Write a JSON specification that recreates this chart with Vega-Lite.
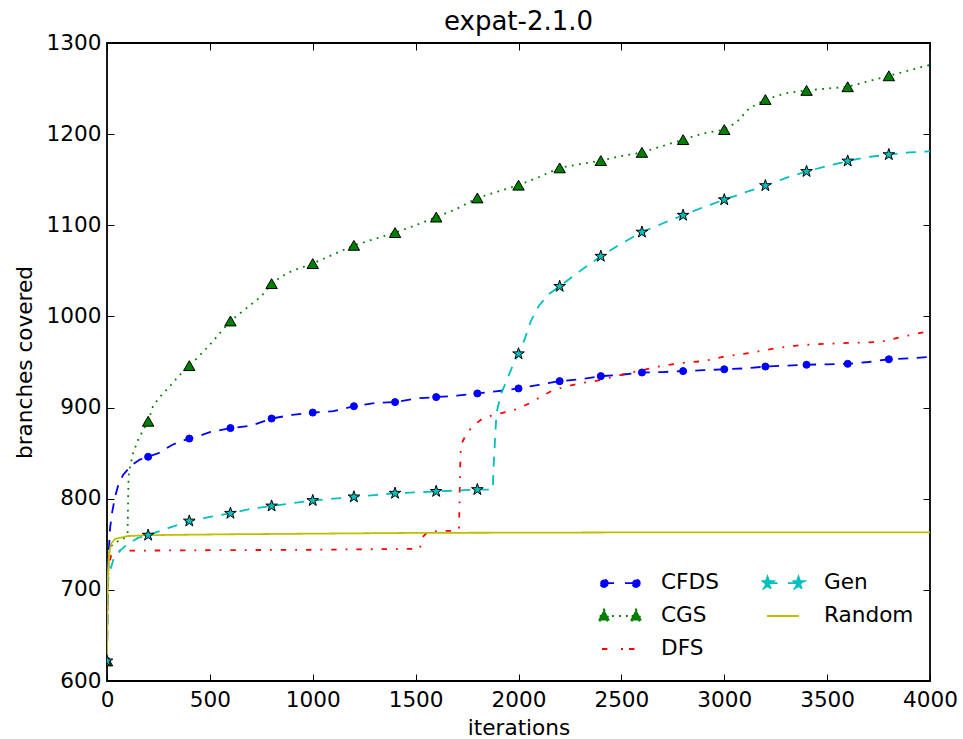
{
  "$schema": "https://vega.github.io/schema/vega-lite/v6.json",
  "width": 823,
  "height": 638,
  "autosize": {"type": "none"},
  "padding": {"left": 107, "top": 43, "right": 33, "bottom": 58},
  "background": "white",
  "title": {"text": "expat-2.1.0", "font": "DejaVu Sans", "fontSize": 26, "fontWeight": "normal", "anchor": "middle", "baseline": "alphabetic", "offset": 10, "dy": 34, "color": "black"},
  "config": {
    "view": {"stroke": "black", "strokeWidth": 1.8},
    "font": "DejaVu Sans",
    "axis": {"domain": false, "grid": false, "tickColor": "black", "tickWidth": 1, "tickSize": -7, "labelFont": "DejaVu Sans", "labelFontSize": 21.6, "labelColor": "black", "titleFont": "DejaVu Sans", "titleFontSize": 21.6, "titleFontWeight": "normal", "titleColor": "black", "labelFlush": false, "labelOverlap": false, "format": "d"}
  },
  "data": {"values": [
    {"s":"CFDS","it":0,"v":622},{"s":"CFDS","it":3,"v":700},{"s":"CFDS","it":8,"v":740},{"s":"CFDS","it":15,"v":768},{"s":"CFDS","it":25,"v":785},{"s":"CFDS","it":39,"v":802},{"s":"CFDS","it":55,"v":815},{"s":"CFDS","it":78,"v":826},{"s":"CFDS","it":120,"v":837},{"s":"CFDS","it":160,"v":843},{"s":"CFDS","it":200,"v":846},{"s":"CFDS","it":250,"v":850},{"s":"CFDS","it":316,"v":859},{"s":"CFDS","it":360,"v":863},{"s":"CFDS","it":400,"v":866},{"s":"CFDS","it":450,"v":869},{"s":"CFDS","it":500,"v":873},{"s":"CFDS","it":600,"v":877.5},{"s":"CFDS","it":700,"v":880},{"s":"CFDS","it":750,"v":884},{"s":"CFDS","it":800,"v":888},{"s":"CFDS","it":900,"v":892},{"s":"CFDS","it":1000,"v":894.5},{"s":"CFDS","it":1100,"v":896},{"s":"CFDS","it":1200,"v":901.5},{"s":"CFDS","it":1300,"v":905},{"s":"CFDS","it":1400,"v":906},{"s":"CFDS","it":1500,"v":910},{"s":"CFDS","it":1600,"v":911.5},{"s":"CFDS","it":1700,"v":913},{"s":"CFDS","it":1800,"v":915.5},{"s":"CFDS","it":1900,"v":918},{"s":"CFDS","it":2000,"v":921},{"s":"CFDS","it":2100,"v":925},{"s":"CFDS","it":2200,"v":929},{"s":"CFDS","it":2300,"v":931},{"s":"CFDS","it":2400,"v":934.5},{"s":"CFDS","it":2500,"v":936},{"s":"CFDS","it":2600,"v":938.5},{"s":"CFDS","it":2700,"v":939},{"s":"CFDS","it":2800,"v":940},{"s":"CFDS","it":2900,"v":941},{"s":"CFDS","it":3000,"v":942},{"s":"CFDS","it":3100,"v":943},{"s":"CFDS","it":3200,"v":945},{"s":"CFDS","it":3300,"v":946},{"s":"CFDS","it":3400,"v":947},{"s":"CFDS","it":3500,"v":947.5},{"s":"CFDS","it":3600,"v":948},{"s":"CFDS","it":3700,"v":950},{"s":"CFDS","it":3800,"v":953},{"s":"CFDS","it":3900,"v":954},{"s":"CFDS","it":4000,"v":955.5},
    {"s":"CGS","it":0,"v":622},{"s":"CGS","it":3,"v":700},{"s":"CGS","it":10,"v":740},{"s":"CGS","it":20,"v":748},{"s":"CGS","it":40,"v":752},{"s":"CGS","it":80,"v":756},{"s":"CGS","it":100,"v":762},{"s":"CGS","it":102,"v":790},{"s":"CGS","it":105,"v":825},{"s":"CGS","it":112,"v":835},{"s":"CGS","it":127,"v":850},{"s":"CGS","it":150,"v":864},{"s":"CGS","it":170,"v":873},{"s":"CGS","it":200,"v":885},{"s":"CGS","it":223,"v":901},{"s":"CGS","it":250,"v":910},{"s":"CGS","it":300,"v":922},{"s":"CGS","it":350,"v":935},{"s":"CGS","it":400,"v":946},{"s":"CGS","it":450,"v":957},{"s":"CGS","it":500,"v":969},{"s":"CGS","it":550,"v":982},{"s":"CGS","it":600,"v":995},{"s":"CGS","it":650,"v":1004},{"s":"CGS","it":700,"v":1013},{"s":"CGS","it":750,"v":1022},{"s":"CGS","it":800,"v":1036},{"s":"CGS","it":850,"v":1044},{"s":"CGS","it":900,"v":1050},{"s":"CGS","it":950,"v":1054},{"s":"CGS","it":1000,"v":1058},{"s":"CGS","it":1100,"v":1068},{"s":"CGS","it":1200,"v":1078},{"s":"CGS","it":1300,"v":1085},{"s":"CGS","it":1400,"v":1092},{"s":"CGS","it":1500,"v":1100},{"s":"CGS","it":1600,"v":1109},{"s":"CGS","it":1700,"v":1118},{"s":"CGS","it":1800,"v":1130},{"s":"CGS","it":1900,"v":1137},{"s":"CGS","it":2000,"v":1144},{"s":"CGS","it":2100,"v":1153},{"s":"CGS","it":2200,"v":1163},{"s":"CGS","it":2300,"v":1167},{"s":"CGS","it":2400,"v":1171},{"s":"CGS","it":2500,"v":1176},{"s":"CGS","it":2600,"v":1180},{"s":"CGS","it":2700,"v":1187},{"s":"CGS","it":2800,"v":1194},{"s":"CGS","it":2900,"v":1201},{"s":"CGS","it":3000,"v":1205},{"s":"CGS","it":3060,"v":1213},{"s":"CGS","it":3120,"v":1228},{"s":"CGS","it":3200,"v":1238},{"s":"CGS","it":3300,"v":1245},{"s":"CGS","it":3400,"v":1248},{"s":"CGS","it":3500,"v":1250},{"s":"CGS","it":3600,"v":1252},{"s":"CGS","it":3700,"v":1258},{"s":"CGS","it":3800,"v":1264},{"s":"CGS","it":3900,"v":1270},{"s":"CGS","it":4000,"v":1276},
    {"s":"DFS","it":0,"v":622},{"s":"DFS","it":3,"v":700},{"s":"DFS","it":8,"v":725},{"s":"DFS","it":20,"v":738},{"s":"DFS","it":50,"v":743},{"s":"DFS","it":100,"v":743},{"s":"DFS","it":500,"v":743.5},{"s":"DFS","it":1000,"v":744},{"s":"DFS","it":1520,"v":745},{"s":"DFS","it":1535,"v":758},{"s":"DFS","it":1560,"v":764},{"s":"DFS","it":1700,"v":765},{"s":"DFS","it":1711,"v":767},{"s":"DFS","it":1716,"v":830},{"s":"DFS","it":1720,"v":859},{"s":"DFS","it":1749,"v":872},{"s":"DFS","it":1780,"v":880},{"s":"DFS","it":1828,"v":888.5},{"s":"DFS","it":1900,"v":893},{"s":"DFS","it":1958,"v":896},{"s":"DFS","it":2000,"v":899},{"s":"DFS","it":2056,"v":905},{"s":"DFS","it":2110,"v":912},{"s":"DFS","it":2167,"v":919},{"s":"DFS","it":2284,"v":926},{"s":"DFS","it":2395,"v":930},{"s":"DFS","it":2500,"v":936},{"s":"DFS","it":2600,"v":941},{"s":"DFS","it":2700,"v":946},{"s":"DFS","it":2800,"v":949},{"s":"DFS","it":2900,"v":951},{"s":"DFS","it":3000,"v":956},{"s":"DFS","it":3125,"v":960},{"s":"DFS","it":3250,"v":965},{"s":"DFS","it":3368,"v":968.5},{"s":"DFS","it":3500,"v":970},{"s":"DFS","it":3611,"v":971},{"s":"DFS","it":3757,"v":972},{"s":"DFS","it":3815,"v":975},{"s":"DFS","it":3870,"v":978},{"s":"DFS","it":4000,"v":984},
    {"s":"Gen","it":0,"v":622},{"s":"Gen","it":3,"v":700},{"s":"Gen","it":8,"v":716},{"s":"Gen","it":31,"v":733},{"s":"Gen","it":63,"v":743},{"s":"Gen","it":100,"v":750},{"s":"Gen","it":150,"v":757},{"s":"Gen","it":200,"v":760},{"s":"Gen","it":300,"v":768},{"s":"Gen","it":400,"v":775.5},{"s":"Gen","it":500,"v":780},{"s":"Gen","it":600,"v":784},{"s":"Gen","it":700,"v":789},{"s":"Gen","it":800,"v":792},{"s":"Gen","it":900,"v":795},{"s":"Gen","it":1000,"v":798},{"s":"Gen","it":1100,"v":800},{"s":"Gen","it":1200,"v":802},{"s":"Gen","it":1300,"v":804},{"s":"Gen","it":1400,"v":806},{"s":"Gen","it":1500,"v":807},{"s":"Gen","it":1600,"v":808},{"s":"Gen","it":1700,"v":809},{"s":"Gen","it":1800,"v":810},{"s":"Gen","it":1875,"v":810},{"s":"Gen","it":1880,"v":840},{"s":"Gen","it":1893,"v":894},{"s":"Gen","it":1915,"v":915},{"s":"Gen","it":1943,"v":930},{"s":"Gen","it":1970,"v":945},{"s":"Gen","it":2000,"v":959},{"s":"Gen","it":2030,"v":975},{"s":"Gen","it":2060,"v":995},{"s":"Gen","it":2100,"v":1012},{"s":"Gen","it":2150,"v":1025},{"s":"Gen","it":2200,"v":1033},{"s":"Gen","it":2300,"v":1050},{"s":"Gen","it":2400,"v":1066},{"s":"Gen","it":2500,"v":1080},{"s":"Gen","it":2600,"v":1092.5},{"s":"Gen","it":2700,"v":1102},{"s":"Gen","it":2800,"v":1111},{"s":"Gen","it":2900,"v":1120},{"s":"Gen","it":3000,"v":1128},{"s":"Gen","it":3100,"v":1136},{"s":"Gen","it":3200,"v":1143.5},{"s":"Gen","it":3300,"v":1152},{"s":"Gen","it":3400,"v":1159},{"s":"Gen","it":3500,"v":1165},{"s":"Gen","it":3600,"v":1170.5},{"s":"Gen","it":3700,"v":1175},{"s":"Gen","it":3800,"v":1177.5},{"s":"Gen","it":3900,"v":1180},{"s":"Gen","it":4000,"v":1181},
    {"s":"Random","it":0,"v":622},{"s":"Random","it":2,"v":680},{"s":"Random","it":5,"v":720},{"s":"Random","it":10,"v":740},{"s":"Random","it":20,"v":751},{"s":"Random","it":40,"v":756},{"s":"Random","it":100,"v":759},{"s":"Random","it":200,"v":760},{"s":"Random","it":600,"v":761},{"s":"Random","it":1500,"v":762.5},{"s":"Random","it":2500,"v":763},{"s":"Random","it":4000,"v":763}
  ]},
  "layer": [
    {
      "mark": {"type": "line", "strokeWidth": 1.8, "clip": true},
      "encoding": {
        "x": {"field": "it", "type": "quantitative", "scale": {"domain": [0, 4000], "nice": false, "zero": false},
              "axis": {"orient": "bottom", "values": [0,500,1000,1500,2000,2500,3000,3500,4000], "title": "iterations", "labelPadding": 15, "titlePadding": 7}},
        "y": {"field": "v", "type": "quantitative", "scale": {"domain": [600, 1300], "nice": false, "zero": false},
              "axis": {"orient": "left", "values": [600,700,800,900,1000,1100,1200,1300], "title": "branches covered", "labelPadding": 13, "titlePadding": 10}},
        "color": {"field": "s", "type": "nominal",
          "scale": {"domain": ["CFDS","CGS","DFS","Gen","Random"], "range": ["#0000ff","#008000","#ff0000","#00bfbf","#bfbf00"]},
          "legend": {
            "orient": "none", "legendX": 502, "legendY": 529, "columns": 2, "title": null,
            "labelFont": "DejaVu Sans", "labelFontSize": 21.6, "labelColor": "black",
            "symbolSize": 400, "labelOffset": 30, "columnPadding": 38, "rowPadding": 11, "padding": 0,
            "encode": {"symbols": {"update": {
              "shape": {"signal": "datum.value==='CFDS' ? 'M-1.6,0L-0.5,0M0.5,0L1.6,0M-1.22,0A0.38,0.38,0,1,1,-1.98,0A0.38,0.38,0,1,1,-1.22,0ZM1.98,0A0.38,0.38,0,1,1,1.22,0A0.38,0.38,0,1,1,1.98,0Z' : datum.value==='CGS' ? 'M-0.8,0L-0.6,0M-0.1,0L0.1,0M0.6,0L0.8,0M-1.6,-0.65L-1.0,0.45L-2.2,0.45ZM1.6,-0.65L2.2,0.45L1.0,0.45Z' : datum.value==='DFS' ? 'M-1.8,0L-0.9,0M0.1,0L0.3,0M0.9,0L1.6,0' : datum.value==='Gen' ? 'M-1.55,0L-0.5,0M0.5,0L1.55,0M-1.55,-0.65L-1.391,-0.218L-0.932,-0.201L-1.293,0.083L-1.168,0.526L-1.55,0.27L-1.932,0.526L-1.807,0.083L-2.168,-0.201L-1.709,-0.218ZM1.55,-0.65L1.709,-0.218L2.168,-0.201L1.807,0.083L1.932,0.526L1.55,0.27L1.168,0.526L1.293,0.083L0.932,-0.201L1.391,-0.218Z' : 'M-1.6,0L1.6,0'"},
              "fill": {"signal": "datum.value==='CFDS' ? '#0000ff' : datum.value==='CGS' ? '#008000' : datum.value==='Gen' ? '#00bfbf' : 'transparent'"},
              "stroke": {"signal": "datum.value==='CFDS' ? '#0000ff' : datum.value==='CGS' ? '#008000' : datum.value==='Gen' ? '#00bfbf' : datum.value==='DFS' ? '#ff0000' : '#bfbf00'"},
              "strokeWidth": {"value": 1.8},
              "strokeDash": {"value": [1, 0]},
              "opacity": {"value": 1},
              "fillOpacity": {"value": 1},
              "strokeOpacity": {"value": 1}
            }}}
          }},
        "strokeDash": {"field": "s", "type": "nominal",
          "scale": {"domain": ["CFDS","CGS","DFS","Gen","Random"], "range": [[10,8.5],[1.8,5.4],[5.4,9,1.8,9],[10,8.5],[1,0]]},
          "legend": null}
      }
    },
    {
      "transform": [{"filter": "datum.s === 'CFDS' && datum.it % 200 === 0 && datum.it < 4000"}],
      "mark": {"type": "point", "shape": "circle", "filled": true, "size": 50, "fill": "#0000ff", "stroke": "#0000ff", "strokeWidth": 1, "opacity": 1, "clip": true},
      "encoding": {"x": {"field": "it", "type": "quantitative", "axis": null}, "y": {"field": "v", "type": "quantitative", "axis": null}}
    },
    {
      "transform": [{"filter": "datum.s === 'CGS' && datum.it % 200 === 0 && datum.it < 4000"}],
      "mark": {"type": "point", "shape": "triangle-up", "filled": true, "size": 130, "fill": "#008000", "stroke": "black", "strokeWidth": 1, "opacity": 1, "clip": true},
      "encoding": {
        "x": {"field": "it", "type": "quantitative", "axis": {"orient": "top", "labels": false, "title": null, "values": [0,500,1000,1500,2000,2500,3000,3500,4000]}},
        "y": {"field": "v", "type": "quantitative", "axis": {"orient": "right", "labels": false, "title": null, "values": [600,700,800,900,1000,1100,1200,1300]}}
      }
    },
    {
      "transform": [{"filter": "datum.s === 'Gen' && datum.it % 200 === 0 && datum.it < 4000"}],
      "mark": {"type": "point", "shape": "M0,-1L0.225,-0.309L0.951,-0.309L0.363,0.118L0.588,0.809L0,0.382L-0.588,0.809L-0.363,0.118L-0.951,-0.309L-0.225,-0.309Z", "filled": true, "size": 150, "fill": "#00bfbf", "stroke": "black", "strokeWidth": 1, "opacity": 1, "clip": true},
      "encoding": {"x": {"field": "it", "type": "quantitative", "axis": null}, "y": {"field": "v", "type": "quantitative", "axis": null}}
    }
  ]
}
